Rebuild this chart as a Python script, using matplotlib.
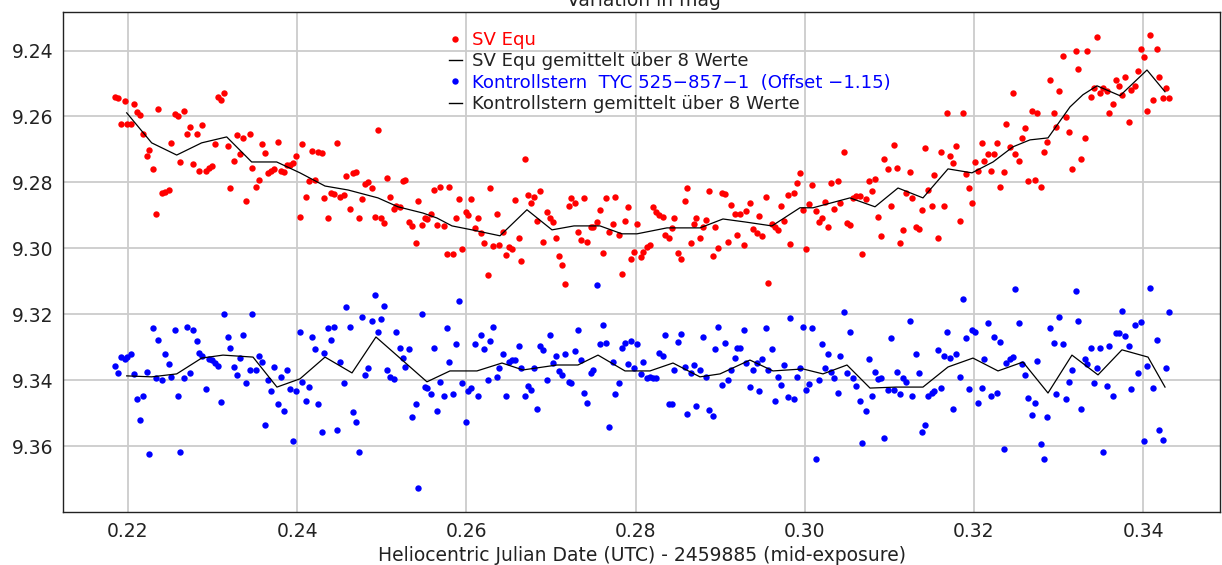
# -*- coding: utf-8 -*-

"""
Lichtkurve SV Equ mit Kontrollstern
- Einzelmessungen als Punkte
- gleitender Mittelwert ueber 8 Werte als Linie
"""

import matplotlib
matplotlib.use("Agg")
import matplotlib.pyplot as plt
from matplotlib.lines import Line2D


# =============================================================================
# DATA
# =============================================================================

# Heliocentric Julian Date - 2459885, one entry per exposure
hjd = [
    0.2185, 0.2188, 0.2192, 0.2196, 0.2199, 0.2203, 0.2207, 0.2211, 0.2214, 0.2218,
    0.2222, 0.2225, 0.2229, 0.2233, 0.2236, 0.2240, 0.2244, 0.2248, 0.2251, 0.2255,
    0.2259, 0.2262, 0.2266, 0.2270, 0.2273, 0.2277, 0.2281, 0.2284, 0.2288, 0.2292,
    0.2296, 0.2299, 0.2303, 0.2307, 0.2310, 0.2314, 0.2318, 0.2321, 0.2325, 0.2329,
    0.2333, 0.2336, 0.2340, 0.2344, 0.2347, 0.2351, 0.2355, 0.2358, 0.2362, 0.2366,
    0.2369, 0.2373, 0.2377, 0.2381, 0.2384, 0.2388, 0.2392, 0.2395, 0.2399, 0.2403,
    0.2406, 0.2410, 0.2414, 0.2418, 0.2421, 0.2425, 0.2429, 0.2432, 0.2436, 0.2440,
    0.2443, 0.2447, 0.2451, 0.2455, 0.2458, 0.2462, 0.2466, 0.2469, 0.2473, 0.2477,
    0.2480, 0.2484, 0.2488, 0.2492, 0.2495, 0.2499, 0.2503, 0.2506, 0.2510, 0.2514,
    0.2517, 0.2521, 0.2525, 0.2528, 0.2532, 0.2536, 0.2540, 0.2543, 0.2547, 0.2551,
    0.2554, 0.2558, 0.2562, 0.2565, 0.2569, 0.2573, 0.2577, 0.2580, 0.2584, 0.2588,
    0.2591, 0.2595, 0.2599, 0.2602, 0.2606, 0.2610, 0.2614, 0.2617, 0.2621, 0.2625,
    0.2628, 0.2632, 0.2636, 0.2639, 0.2643, 0.2647, 0.2650, 0.2654, 0.2658, 0.2662,
    0.2665, 0.2669, 0.2673, 0.2676, 0.2680, 0.2684, 0.2687, 0.2691, 0.2695, 0.2699,
    0.2702, 0.2706, 0.2710, 0.2713, 0.2717, 0.2721, 0.2724, 0.2728, 0.2732, 0.2736,
    0.2739, 0.2743, 0.2747, 0.2750, 0.2754, 0.2758, 0.2761, 0.2765, 0.2769, 0.2773,
    0.2776, 0.2780, 0.2784, 0.2787, 0.2791, 0.2795, 0.2798, 0.2802, 0.2806, 0.2809,
    0.2813, 0.2817, 0.2821, 0.2824, 0.2828, 0.2832, 0.2835, 0.2839, 0.2843, 0.2846,
    0.2850, 0.2854, 0.2858, 0.2861, 0.2865, 0.2869, 0.2872, 0.2876, 0.2880, 0.2883,
    0.2887, 0.2891, 0.2894, 0.2898, 0.2902, 0.2906, 0.2909, 0.2913, 0.2917, 0.2920,
    0.2924, 0.2928, 0.2931, 0.2935, 0.2939, 0.2943, 0.2946, 0.2950, 0.2954, 0.2957,
    0.2961, 0.2965, 0.2968, 0.2972, 0.2976, 0.2980, 0.2983, 0.2987, 0.2991, 0.2994,
    0.2998, 0.3002, 0.3005, 0.3009, 0.3013, 0.3017, 0.3020, 0.3024, 0.3028, 0.3031,
    0.3035, 0.3039, 0.3042, 0.3046, 0.3050, 0.3053, 0.3057, 0.3061, 0.3065, 0.3068,
    0.3072, 0.3076, 0.3079, 0.3083, 0.3087, 0.3090, 0.3094, 0.3098, 0.3102, 0.3105,
    0.3109, 0.3113, 0.3116, 0.3120, 0.3124, 0.3127, 0.3131, 0.3135, 0.3139, 0.3142,
    0.3146, 0.3150, 0.3153, 0.3157, 0.3161, 0.3164, 0.3168, 0.3172, 0.3175, 0.3179,
    0.3183, 0.3187, 0.3190, 0.3194, 0.3198, 0.3201, 0.3205, 0.3209, 0.3212, 0.3216,
    0.3220, 0.3224, 0.3227, 0.3231, 0.3235, 0.3238, 0.3242, 0.3246, 0.3249, 0.3253,
    0.3257, 0.3260, 0.3264, 0.3268, 0.3272, 0.3275, 0.3279, 0.3283, 0.3286, 0.3290,
    0.3294, 0.3297, 0.3301, 0.3305, 0.3309, 0.3312, 0.3316, 0.3320, 0.3323, 0.3327,
    0.3331, 0.3334, 0.3338, 0.3342, 0.3346, 0.3349, 0.3353, 0.3357, 0.3360, 0.3364,
    0.3368, 0.3371, 0.3375, 0.3379, 0.3383, 0.3386, 0.3390, 0.3394, 0.3397, 0.3401,
    0.3405, 0.3408, 0.3412, 0.3416, 0.3419, 0.3423, 0.3427, 0.3431,
]

# SV Equ, single measurements (mag)
sv_equ = [
    9.2540, 9.2545, 9.2622, 9.2553, 9.2622, 9.2622, 9.2563, 9.2587, 9.2597, 9.2652,
    9.2720, 9.2701, 9.2759, 9.2896, 9.2578, 9.2833, 9.2828, 9.2823, 9.2681, 9.2593,
    9.2598, 9.2739, 9.2583, 9.2652, 9.2631, 9.2744, 9.2652, 9.2764, 9.2626, 9.2764,
    9.2755, 9.2750, 9.2684, 9.2540, 9.2550, 9.2529, 9.2691, 9.2818, 9.2735, 9.2656,
    9.2715, 9.2666, 9.2856, 9.2652, 9.2755, 9.2813, 9.2792, 9.2684, 9.2710, 9.2772,
    9.2764, 9.2760, 9.2676, 9.2764, 9.2767, 9.2747, 9.2747, 9.2742, 9.2720, 9.2906,
    9.2684,
    9.2843, 9.2797, 9.2704, 9.2794, 9.2708, 9.2711, 9.2848, 9.2909, 9.2833, 9.2836,
    9.2681, 9.2843, 9.2838, 9.2782, 9.2880, 9.2772, 9.2767, 9.2909, 9.2850, 9.2806,
    9.2799, 9.2818, 9.2906, 9.2642, 9.2909, 9.2924, 9.2787, 9.2845, 9.2880, 9.2873,
    9.2875, 9.2797, 9.2792, 9.2919, 9.2931, 9.2985, 9.2856, 9.2929, 9.2907, 9.2912,
    9.2896, 9.2823, 9.2929, 9.2813, 9.2931, 9.3018, 9.2813, 9.3018, 9.2909, 9.2850,
    9.3003, 9.2891, 9.2899, 9.2851, 9.2937, 9.2909, 9.2954, 9.2985, 9.3081, 9.2818,
    9.2993, 9.2897, 9.2990, 9.2949, 9.3020, 9.2995, 9.3002, 9.2853, 9.2969, 9.3038,
    9.2730, 9.2838, 9.2863, 9.2843, 9.2917, 9.2826, 9.2980, 9.2891, 9.2909, 9.2919,
    9.2969, 9.3022, 9.3052, 9.3109, 9.2873, 9.2846, 9.2861, 9.2949, 9.2975, 9.2848,
    9.2980, 9.2934, 9.2934, 9.2921, 9.2885, 9.3015, 9.2848, 9.2949, 9.2926, 9.2843,
    9.2959, 9.3077, 9.2916, 9.2876, 9.3033, 9.3010, 9.2926, 9.3027, 9.3010, 9.2995,
    9.2990, 9.2876, 9.2889, 9.2899, 9.2904, 9.2961, 9.2969, 9.2939, 9.2907, 9.3015,
    9.3033, 9.2856, 9.2818, 9.2985, 9.2927, 9.2907, 9.2969, 9.2934, 9.2914, 9.2826,
    9.3022, 9.2934, 9.2998, 9.2833, 9.2836, 9.2980, 9.2868, 9.2897, 9.2959, 9.2897,
    9.2990, 9.2886, 9.2861, 9.2941, 9.2954, 9.2901, 9.2964, 9.2843, 9.3106, 9.2927,
    9.2934, 9.2944, 9.2871, 9.2917, 9.2838, 9.2988, 9.2833, 9.2803, 9.2772, 9.2883,
    9.3003, 9.2866, 9.2808, 9.2886, 9.2921, 9.2907, 9.2860, 9.2934, 9.2803, 9.2881,
    9.2795, 9.2863, 9.2709, 9.2924, 9.2929, 9.2848, 9.2840, 9.2840, 9.3018,
    9.2851, 9.2797, 9.2826, 9.2789, 9.2906, 9.2964, 9.2729, 9.2759, 9.2871, 9.2686,
    9.2755, 9.2985, 9.2944, 9.2833, 9.2767, 9.2848, 9.2934, 9.2941, 9.2885, 9.2696,
    9.2823, 9.2871, 9.2777, 9.2969, 9.2709, 9.2871, 9.2588, 9.2720, 9.2740, 9.2691,
    9.2916, 9.2588, 9.2774, 9.2818, 9.2861, 9.2739, 9.2764, 9.2681, 9.2735, 9.2715,
    9.2764, 9.2715, 9.2681, 9.2813, 9.2768, 9.2622, 9.2694, 9.2529, 9.2715, 9.2735,
    9.2666, 9.2636, 9.2797, 9.2583, 9.2792, 9.2588, 9.2813, 9.2709, 9.2676, 9.2489,
    9.2588, 9.2631,
    9.2524, 9.2418, 9.2603, 9.2646, 9.2759, 9.2401, 9.2456, 9.2730, 9.2666, 9.2401,
    9.2540, 9.2514, 9.2358, 9.2529, 9.2514, 9.2522, 9.2588, 9.2563, 9.2489, 9.2509,
    9.2534, 9.2481, 9.2617, 9.2519, 9.2509, 9.2461, 9.2396, 9.2421, 9.2583, 9.2353,
    9.2550, 9.2396, 9.2481, 9.2543, 9.2514, 9.2543,
]

# Kontrollstern TYC 525-857-1 (Offset -1.15), single measurements (mag)
kontroll = [
    9.3356, 9.3379, 9.3329, 9.3337, 9.3329, 9.3321, 9.3382, 9.3457, 9.3521, 9.3448,
    9.3374, 9.3624, 9.3243, 9.3394, 9.3278, 9.3398, 9.3321, 9.3351, 9.3389, 9.3248,
    9.3448, 9.3619, 9.3394, 9.3238, 9.3379, 9.3248, 9.3281, 9.3317, 9.3327, 9.3428,
    9.3337, 9.3339, 9.3349, 9.3356, 9.3467, 9.3199, 9.3268, 9.3301, 9.3361, 9.3384,
    9.3332, 9.3263, 9.3410, 9.3369, 9.3199, 9.3369, 9.3327, 9.3344, 9.3536, 9.3400,
    9.3433, 9.3361, 9.3472, 9.3389, 9.3493, 9.3369, 9.3428, 9.3585, 9.3433, 9.3253,
    9.3405,
    9.3462, 9.3420, 9.3268, 9.3306, 9.3472, 9.3556, 9.3317, 9.3243, 9.3278, 9.3238,
    9.3551, 9.3344, 9.3410, 9.3179, 9.3238, 9.3498, 9.3526, 9.3619, 9.3209, 9.3384,
    9.3364, 9.3222, 9.3141, 9.3253, 9.3214, 9.3174, 9.3369, 9.3389, 9.3397, 9.3253,
    9.3301, 9.3332, 9.3361, 9.3306, 9.3511, 9.3472, 9.3728, 9.3199, 9.3420, 9.3425,
    9.3443, 9.3301, 9.3493, 9.3405, 9.3448, 9.3243, 9.3346, 9.3443, 9.3291, 9.3160,
    9.3410, 9.3526, 9.3433, 9.3425, 9.3291, 9.3448, 9.3263, 9.3306,
    9.3400, 9.3281, 9.3238, 9.3389, 9.3364, 9.3321, 9.3448, 9.3344, 9.3339, 9.3339,
    9.3296, 9.3364, 9.3448, 9.3418, 9.3430, 9.3364, 9.3488, 9.3296, 9.3308, 9.3400,
    9.3263, 9.3349, 9.3327, 9.3371, 9.3384, 9.3321, 9.3405, 9.3410, 9.3311, 9.3248,
    9.3339, 9.3438, 9.3468, 9.3379, 9.3369, 9.3111, 9.3291, 9.3233, 9.3286, 9.3541,
    9.3344, 9.3443, 9.3410, 9.3303, 9.3288, 9.3351, 9.3281, 9.3364, 9.3291, 9.3381,
    9.3346, 9.3394, 9.3389, 9.3394, 9.3394, 9.3317, 9.3327, 9.3263, 9.3472, 9.3472,
    9.3369, 9.3283, 9.3261, 9.3361, 9.3503, 9.3379, 9.3354, 9.3478, 9.3369, 9.3268,
    9.3391, 9.3491, 9.3508, 9.3306, 9.3238, 9.3415, 9.3286, 9.3400, 9.3369, 9.3332,
    9.3301, 9.3301, 9.3248, 9.3349, 9.3420, 9.3369, 9.3349, 9.3433, 9.3336, 9.3243,
    9.3369, 9.3306, 9.3462, 9.3389, 9.3415, 9.3354, 9.3452, 9.3212, 9.3457, 9.3389,
    9.3364, 9.3238, 9.3430, 9.3413, 9.3243, 9.3639, 9.3400, 9.3291, 9.3364, 9.3321,
    9.3374, 9.3394, 9.3438, 9.3327, 9.3194, 9.3379, 9.3253, 9.3394, 9.3418, 9.3462,
    9.3590, 9.3493,
    9.3336, 9.3448, 9.3374, 9.3397, 9.3392, 9.3574, 9.3430, 9.3273, 9.3430, 9.3374,
    9.3443, 9.3392, 9.3405, 9.3222, 9.3448, 9.3321, 9.3379, 9.3556, 9.3536, 9.3448,
    9.3440, 9.3433, 9.3310, 9.3423, 9.3327, 9.3253, 9.3332, 9.3488, 9.3321, 9.3389,
    9.3155, 9.3273, 9.3428, 9.3248, 9.3253, 9.3468, 9.3423, 9.3336, 9.3228, 9.3448,
    9.3268, 9.3440, 9.3283, 9.3609, 9.3349, 9.3336, 9.3329, 9.3124, 9.3228, 9.3351,
    9.3384, 9.3453, 9.3506, 9.3468, 9.3341, 9.3595, 9.3639, 9.3511, 9.3243, 9.3286,
    9.3443, 9.3207, 9.3291, 9.3457, 9.3405, 9.3369, 9.3131, 9.3219, 9.3488, 9.3336,
    9.3351, 9.3301, 9.3410, 9.3364, 9.3301, 9.3619, 9.3418, 9.3296, 9.3448, 9.3258,
    9.3258, 9.3189, 9.3266, 9.3296, 9.3428, 9.3233, 9.3379, 9.3224, 9.3585, 9.3356,
    9.3120, 9.3423, 9.3278, 9.3551, 9.3582, 9.3364, 9.3194,
]

# SV Equ, averaged over 8 values
sv_mean_x = [
    0.21985, 0.22280, 0.22576, 0.22871, 0.23167, 0.23462, 0.23758, 0.24033,
    0.24329, 0.24601, 0.24955, 0.25191, 0.25487, 0.25652, 0.25830, 0.26066,
    0.26397, 0.26716, 0.27012, 0.27272, 0.27579, 0.27839, 0.28017, 0.28371,
    0.28761, 0.29033, 0.29293, 0.29612, 0.29943, 0.30097, 0.30534, 0.30830,
    0.31102, 0.31397, 0.31693, 0.31976, 0.32225, 0.32461, 0.32662, 0.32875,
    0.33135, 0.33288, 0.33454, 0.33726, 0.34045, 0.34258,
]
sv_mean_y = [
    9.2589, 9.2680, 9.2717, 9.2680, 9.2662, 9.2738, 9.2738, 9.2771,
    9.2811, 9.2823, 9.2847, 9.2874, 9.2893, 9.2908, 9.2932, 9.2944,
    9.2962, 9.2883, 9.2944, 9.2932, 9.2932, 9.2956, 9.2956, 9.2938,
    9.2938, 9.2911, 9.2920, 9.2932, 9.2877, 9.2877, 9.2847, 9.2874,
    9.2817, 9.2847, 9.2759, 9.2771, 9.2738, 9.2692, 9.2671, 9.2665,
    9.2571, 9.2534, 9.2507, 9.2537, 9.2459, 9.2525,
]

# Kontrollstern, averaged over 8 values
k_mean_x = [
    0.21985, 0.22280, 0.22576, 0.22871, 0.23123, 0.23478, 0.23761, 0.24033,
    0.24329, 0.24648, 0.24931, 0.25215, 0.25534, 0.25806, 0.26125, 0.26421,
    0.26669, 0.27071, 0.27319, 0.27556, 0.27875, 0.28170, 0.28442, 0.28761,
    0.28998, 0.29352, 0.29624, 0.29979, 0.30215, 0.30499, 0.30771, 0.31078,
    0.31397, 0.31693, 0.31988, 0.32284, 0.32579, 0.32875, 0.33158, 0.33466,
    0.33749, 0.34057, 0.34258,
]
k_mean_y = [
    9.3387, 9.3390, 9.3381, 9.3333, 9.3324, 9.3330, 9.3421, 9.3396,
    9.3330, 9.3378, 9.3269, 9.3333, 9.3405, 9.3372, 9.3372, 9.3348,
    9.3369, 9.3354, 9.3354, 9.3324, 9.3372, 9.3372, 9.3348, 9.3390,
    9.3381, 9.3339, 9.3372, 9.3366, 9.3381, 9.3354, 9.3424, 9.3421,
    9.3421, 9.3360, 9.3333, 9.3372, 9.3345, 9.3439, 9.3324, 9.3384,
    9.3308, 9.3330, 9.3421,
]

x_ticks = [0.22, 0.24, 0.26, 0.28, 0.30, 0.32, 0.34]
y_ticks = [9.24, 9.26, 9.28, 9.30, 9.32, 9.34, 9.36]

legend_labels = [
    "SV Equ",
    "SV Equ gemittelt über 8 Werte",
    "Kontrollstern  TYC 525\u2212857\u22121  (Offset \u22121.15)",
    "Kontrollstern gemittelt über 8 Werte",
]


# =============================================================================
# FIGURE
# =============================================================================

plt.rcParams['font.family'] = ['DejaVu Sans']

W, H = 1222, 565
fig = plt.figure(figsize=(W / 100, H / 100), dpi=100)

# axes box in pixels: left 63, right 1220, top 12, bottom 512
ax = fig.add_axes([63 / W, 1 - 512 / H, (1220 - 63) / W, (512 - 12) / H])

n_sv = min(len(hjd), len(sv_equ))
n_k = min(len(hjd), len(kontroll))

ax.plot(hjd[:n_sv], sv_equ[:n_sv], 'o', color='#ff0000', ms=4.6,
        mec='#ff0000', mew=0, zorder=3)
ax.plot(sv_mean_x, sv_mean_y, '-', color='black', lw=0.9, zorder=4)

ax.plot(hjd[:n_k], kontroll[:n_k], 'o', color='#0000ff', ms=4.6,
        mec='#0000ff', mew=0, zorder=3)
ax.plot(k_mean_x, k_mean_y, '-', color='black', lw=0.9, zorder=4)

# axis ranges, magnitude axis inverted
ax.set_xlim(0.21232, 0.34908)
ax.set_ylim(9.3800, 9.2283)

ax.set_xticks(x_ticks)
ax.set_xticklabels([f"{v:.2f}" for v in x_ticks])
ax.set_yticks(y_ticks)
ax.set_yticklabels([f"{v:.2f}" for v in y_ticks])

ax.tick_params(axis='both', labelsize=13.5, length=0, pad=7, colors='#222222')

ax.grid(True, color='#cccccc', lw=1.3, zorder=0)
ax.set_axisbelow(True)

for s in ax.spines.values():
    s.set_color('#222222')
    s.set_linewidth(1.0)

ax.set_xlabel("Heliocentric Julian Date (UTC) - 2459885 (mid-exposure)",
              fontsize=13.5, color='#222222', labelpad=4)

# title sits at the top edge of the image, only its lower half shows
fig.text(0.527, 1.0, "Variation in mag", ha='center', va='center',
         fontsize=13.5, color='#222222')


# =============================================================================
# LEGEND
# =============================================================================

handles = [
    Line2D([], [], ls='none', marker='o', ms=4.6, color='#ff0000', mew=0),
    Line2D([], [], ls='-', lw=1.0, color='black'),
    Line2D([], [], ls='none', marker='o', ms=4.6, color='#0000ff', mew=0),
    Line2D([], [], ls='-', lw=1.0, color='black'),
]

leg = ax.legend(handles, legend_labels, loc='upper left',
                bbox_to_anchor=(440 / W, 1 - 22 / H),
                bbox_transform=fig.transFigure,
                frameon=False, fontsize=13.1, handlelength=0.7,
                handletextpad=0.55, labelspacing=0.18, borderpad=0,
                labelcolor=['#ff0000', '#222222', '#0000ff', '#222222'])

plt.savefig("out.png", dpi=100)
